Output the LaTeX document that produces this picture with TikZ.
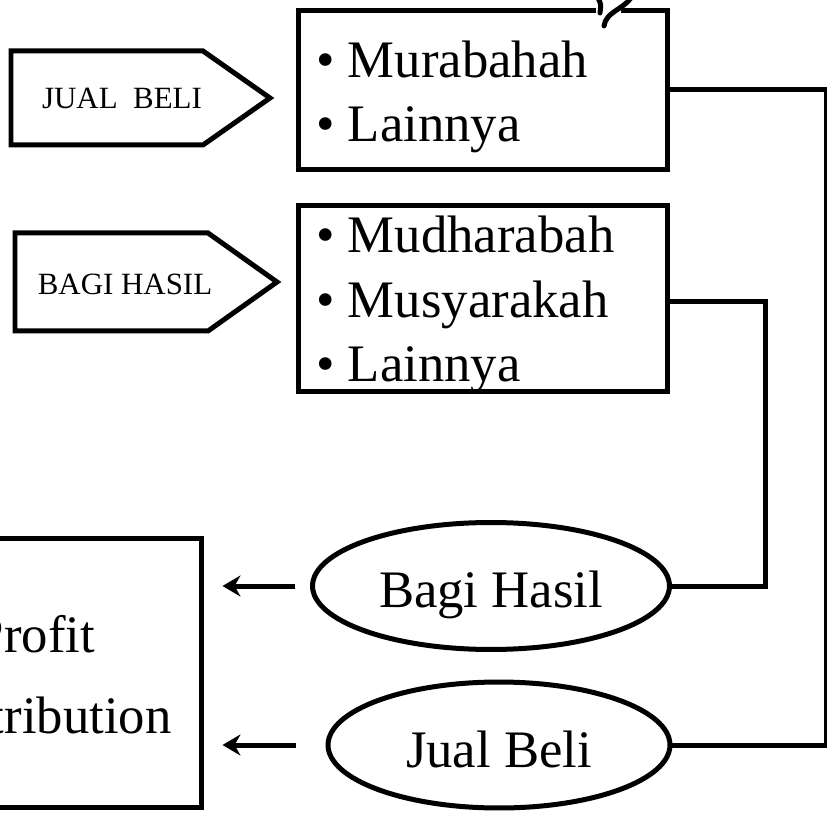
\documentclass[tikz,border=0pt]{standalone}
\usepackage{fontspec}
\setmainfont{Liberation Serif}
\usetikzlibrary{arrows.meta,shapes.geometric}

\begin{document}
\begin{tikzpicture}[x=0.02cm,y=-0.02cm,
		every node/.style={inner sep=0pt},
		box/.style={draw,line width=0.1cm,rectangle},
		oval/.style={draw,line width=0.1cm,ellipse},
		conn/.style={line width=0.1cm},
		arr/.style={line width=0.1cm,-{Stealth[length=0.36cm,width=0.42cm]}},
		big/.style={font=\fontsize{30}{36}\selectfont},
		small/.style={font=\fontsize{17.6}{20}\selectfont}]
		%%%%% START %%%%%
		
		\useasboundingbox (0,0) rectangle (827,813);
		\clip (0,0) rectangle (827,813);
		
		% jenis akad
		\draw[conn] (11,51) -- (203,51) -- (270,98) -- (203,145) -- (11,145) -- cycle;
		\node[small,anchor=base] (jualbeli) at (122,109) {JUAL\ \ BELI};
		\draw[conn] (15,233) -- (208,233) -- (277,282) -- (208,331) -- (15,331) -- cycle;
		\node[small,anchor=base] (bagihasil) at (125,295) {BAGI HASIL};
		
		\node[box,minimum width=7.4cm,minimum height=3.2cm] (akad1) at (483,90) {};
		\node[big,anchor=base west] (murabahah) at (316,78) {\textbullet\ Murabahah};
		\node[big,anchor=base west] (lain1) at (316,142) {\textbullet\ Lainnya};
		
		\fill[white] (596,4) rectangle (621,16);
		\draw[conn,line cap=round] (598,-2) .. controls (601,4) .. (600,13);
		\draw[conn,line cap=round] (631,-2) .. controls (622,10) and (606,12) .. (604,26);
		
		\node[box,minimum width=7.4cm,minimum height=3.74cm] (akad2) at (483,298.5) {};
		\node[big,anchor=base west] (mudharabah) at (316,253) {\textbullet\ Mudharabah};
		\node[big,anchor=base west] (musyarakah) at (316,318) {\textbullet\ Musyarakah};
		\node[big,anchor=base west] (lain2) at (316,382) {\textbullet\ Lainnya};
		
		% hasil
		\node[oval,minimum width=7.14cm,minimum height=2.54cm] (bagi) at (491,586) {};
		\node[big,anchor=base] (bagitext) at (491,607) {Bagi Hasil};
		\node[oval,minimum width=6.84cm,minimum height=2.52cm] (jual) at (499,745) {};
		\node[big,anchor=base] (jualtext) at (499,767) {Jual Beli};
		
		\node[box,minimum width=6.4cm,minimum height=5.4cm] (profit) at (42,673) {};
		\node[big,anchor=base] (profit1) at (35,652) {Profit};
		\node[big,anchor=base] (profit2) at (44,733) {Distribution};
		
		\draw[conn] (akad1.east) -- ++(156,0) |- (jual.east);
		\draw[conn] ([yshift=-0.07cm]akad2.east) -- ++(95,0) |- (bagi.east);
		
		\draw[arr,shorten <=0.3cm,shorten >=0.36cm] (bagi.west) -- (bagi.west -| profit.east);
		\draw[arr,shorten <=0.6cm,shorten >=0.36cm] (jual.west) -- (jual.west -| profit.east);
		
		%%%%% END %%%%%
	\end{tikzpicture}
\end{document}
